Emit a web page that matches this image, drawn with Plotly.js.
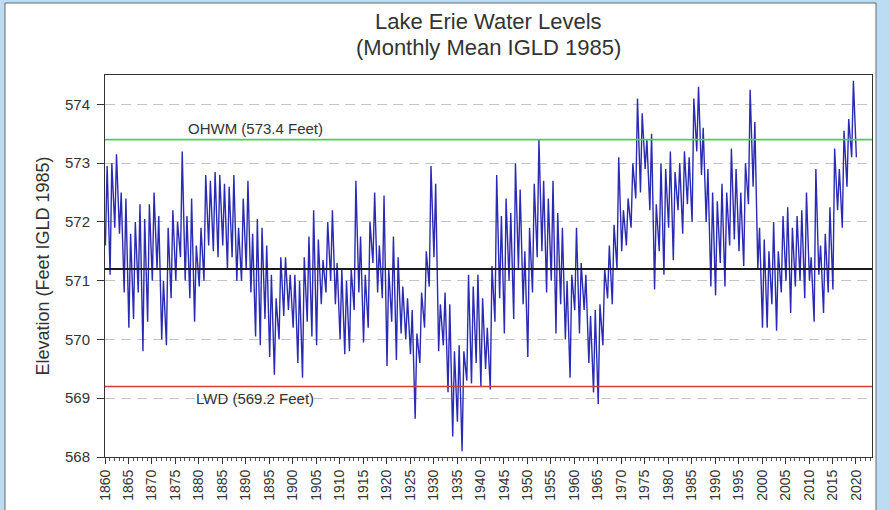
<!DOCTYPE html>
<html>
<head>
<meta charset="utf-8">
<script src="https://cdn.plot.ly/plotly-3.0.1.min.js"></script>
<style>
  html, body { margin: 0; padding: 0; background: #bcdcf4; }
  #chart { width: 889px; height: 510px; }
</style>
</head>
<body>
<div id="chart"></div>
<script>
// Years of record (winter low / summer high read for each year)
const years = [
  1860,1861,1862,1863,1864,1865,1866,1867,1868,1869,
  1870,1871,1872,1873,1874,1875,1876,1877,1878,1879,
  1880,1881,1882,1883,1884,1885,1886,1887,1888,1889,
  1890,1891,1892,1893,1894,1895,1896,1897,1898,1899,
  1900,1901,1902,1903,1904,1905,1906,1907,1908,1909,
  1910,1911,1912,1913,1914,1915,1916,1917,1918,1919,
  1920,1921,1922,1923,1924,1925,1926,1927,1928,1929,
  1930,1931,1932,1933,1934,1935,1936,1937,1938,1939,
  1940,1941,1942,1943,1944,1945,1946,1947,1948,1949,
  1950,1951,1952,1953,1954,1955,1956,1957,1958,1959,
  1960,1961,1962,1963,1964,1965,1966,1967,1968,1969,
  1970,1971,1972,1973,1974,1975,1976,1977,1978,1979,
  1980,1981,1982,1983,1984,1985,1986,1987,1988,1989,
  1990,1991,1992,1993,1994,1995,1996,1997,1998,1999,
  2000,2001,2002,2003,2004,2005,2006,2007,2008,2009,
  2010,2011,2012,2013,2014,2015,2016,2017,2018,2019,
  2020
];

// Winter (low) monthly mean levels, feet IGLD 1985
const winterLevels = [
  571.6,571.1,571.9,571.8,570.8,570.2,570.35,570.8,569.8,570.3,
  571.0,571.2,570.0,569.9,570.7,571.0,571.4,571.0,570.7,570.3,
  570.9,571.0,571.6,571.5,571.4,571.6,571.2,571.4,571.0,571.0,
  571.2,570.8,570.05,569.9,570.35,569.7,569.4,570.0,570.4,570.5,
  570.2,569.6,569.35,570.3,570.05,569.9,570.6,570.8,571.0,570.6,
  570.0,569.75,569.8,570.5,570.8,569.95,570.2,571.3,570.8,570.7,
  569.55,570.3,569.65,570.1,570.0,569.75,568.65,569.6,570.2,570.9,
  571.4,569.8,569.9,569.1,568.35,568.6,568.1,569.3,569.25,569.6,
  569.2,569.5,569.15,570.3,570.7,570.1,571.0,570.35,571.2,570.6,
  569.7,570.8,571.4,571.5,570.8,571.0,570.1,570.6,570.0,569.35,
  570.5,570.1,570.5,569.6,569.1,568.9,569.9,570.7,570.6,571.2,
  571.5,571.6,571.9,572.4,572.5,572.9,572.2,570.85,571.5,571.1,
  571.9,571.35,572.2,571.8,572.3,572.0,573.2,572.8,572.0,570.9,
  570.75,571.3,570.9,571.6,571.7,571.5,571.25,572.3,572.6,571.2,
  570.2,570.2,570.6,570.15,570.8,571.0,570.45,570.9,571.0,570.7,
  571.0,570.3,571.1,570.45,570.8,570.85,572.2,571.9,572.6,573.1,
  573.1
];

// Summer (high) monthly mean levels, feet IGLD 1985
const summerLevels = [
  572.95,573.0,573.15,572.5,572.4,571.8,572.0,572.3,572.05,572.3,
  572.5,572.1,571.0,571.9,572.2,572.0,573.2,572.1,572.4,571.6,
  571.9,572.8,572.7,572.85,572.8,572.65,572.6,572.8,571.9,572.4,
  572.7,571.8,572.05,571.9,571.6,571.1,570.7,571.4,571.4,571.1,
  571.1,571.0,571.4,571.75,572.2,571.7,571.35,572.0,572.2,571.3,
  571.2,571.0,571.2,572.7,571.75,571.1,572.0,572.5,571.6,572.45,
  571.2,571.75,571.4,570.9,570.7,570.5,570.1,570.8,571.5,572.95,
  572.65,570.6,570.8,570.6,569.8,569.9,569.8,571.1,570.9,571.1,
  570.7,570.2,571.25,572.8,572.1,572.4,572.15,573.0,572.55,571.5,
  571.9,572.65,573.4,572.7,572.4,572.7,572.15,571.9,571.0,571.1,
  571.9,571.3,571.1,570.4,570.5,570.6,571.2,571.6,571.95,573.1,
  572.2,572.4,573.0,574.1,573.85,573.4,573.5,572.3,573.0,572.9,
  573.2,572.85,573.0,573.2,573.1,574.1,574.3,573.6,572.9,572.5,
  572.35,572.65,572.5,573.25,572.9,572.5,573.0,574.25,573.7,571.9,
  571.7,571.5,572.0,571.5,572.1,572.25,571.9,572.1,572.2,572.5,
  571.4,572.9,571.6,571.8,572.25,573.25,572.9,573.55,573.75,574.4,
  null
];

// Reference levels (feet)
const ohwmLevel = 573.4;
const lwdLevel = 569.2;
const meanLevel = 571.2;
const refLabels = ["OHWM (573.4 Feet)", "LWD (569.2 Feet)"];
const titleLines = ["Lake Erie Water Levels", "(Monthly Mean IGLD 1985)"];

// Build the monthly sequence: February low, June high for each year
const xs = [], ys = [];
years.forEach((yr, i) => {
  xs.push(yr + "-02-01"); ys.push(winterLevels[i]);
  if (summerLevels[i] !== null) { xs.push(yr + "-06-15"); ys.push(summerLevels[i]); }
});

const trace = {
  x: xs, y: ys, type: "scatter", mode: "lines",
  line: { color: "#2a2ab4", width: 1.4 },
  hoverinfo: "x+y"
};

const pxL = 105, pxR = 872, pxT = 75, pxB = 457, W = 889, H = 510;
const pw = pxR - pxL, ph = pxB - pxT;
const py = p => (pxB - p) / ph;   // pixel row -> paper y

const layout = {
  width: W, height: H,
  margin: { l: pxL, r: W - pxR, t: pxT, b: H - pxB, pad: 0 },
  paper_bgcolor: "#bcdcf4",
  plot_bgcolor: "#ffffff",
  showlegend: false,
  font: { family: "Liberation Sans, Arial, sans-serif", color: "#333333" },
  xaxis: {
    type: "date",
    range: ["1860-01-01", "2023-06-01"],
    tick0: "1860-01-01", dtick: "M60", tickformat: "%Y",
    tickangle: -90,
    ticks: "outside", ticklen: 6, tickcolor: "#333",
    minor: { dtick: "M12", ticks: "outside", ticklen: 3, tickcolor: "#555", showgrid: false },
    tickfont: { size: 14, color: "#333" },
    showgrid: false, zeroline: false,
    showline: true, linecolor: "#333", linewidth: 1, mirror: true,
    fixedrange: true
  },
  yaxis: {
    range: [568, 574.5],
    tick0: 568, dtick: 1,
    ticks: "outside", ticklen: 7, tickcolor: "#333",
    tickfont: { size: 15, color: "#333" },
    ticklabelstandoff: 4,
    showgrid: true, gridcolor: "#c4c4c4", griddash: "10px,6px", gridwidth: 1,
    zeroline: false,
    showline: true, linecolor: "#333", linewidth: 1, mirror: true,
    title: { text: "Elevation (Feet IGLD 1985)", font: { size: 18, color: "#333" }, standoff: 10 },
    fixedrange: true
  },
  shapes: [
    { type: "rect", xref: "paper", yref: "paper", layer: "below",
      x0: (5 - pxL) / pw, x1: (876 - pxL) / pw,
      y0: (pxB - 520) / ph, y1: (pxB - 3) / ph,
      fillcolor: "#ffffff", line: { color: "#666", width: 1 } },
    { type: "line", xref: "paper", yref: "y", x0: 0, x1: 1, y0: ohwmLevel, y1: ohwmLevel,
      line: { color: "#3ddc3d", width: 1.6 } },
    { type: "line", xref: "paper", yref: "y", x0: 0, x1: 1, y0: lwdLevel, y1: lwdLevel,
      line: { color: "#d43a3a", width: 1.6 } },
    { type: "line", xref: "paper", yref: "y", x0: 0, x1: 1, y0: meanLevel, y1: meanLevel,
      line: { color: "#1a1a1a", width: 2 } }
  ],
  annotations: [
    { text: titleLines[0], xref: "paper", yref: "paper", x: 0.5, y: py(21),
      xanchor: "center", yanchor: "middle", showarrow: false,
      font: { size: 22, color: "#333" } },
    { text: titleLines[1], xref: "paper", yref: "paper", x: 0.5, y: py(48),
      xanchor: "center", yanchor: "middle", showarrow: false,
      font: { size: 22, color: "#333" } },
    { text: refLabels[0], xref: "x", yref: "y", x: "1892-01-01", y: ohwmLevel,
      yanchor: "bottom", xanchor: "center", yshift: 1, showarrow: false,
      font: { size: 15, color: "#333" } },
    { text: refLabels[1], xref: "x", yref: "y", x: "1892-01-01", y: lwdLevel,
      yanchor: "top", xanchor: "center", yshift: -2, showarrow: false,
      font: { size: 15, color: "#333" } }
  ]
};

Plotly.newPlot("chart", [trace], layout, { displayModeBar: false, staticPlot: true });
</script>
</body>
</html>
